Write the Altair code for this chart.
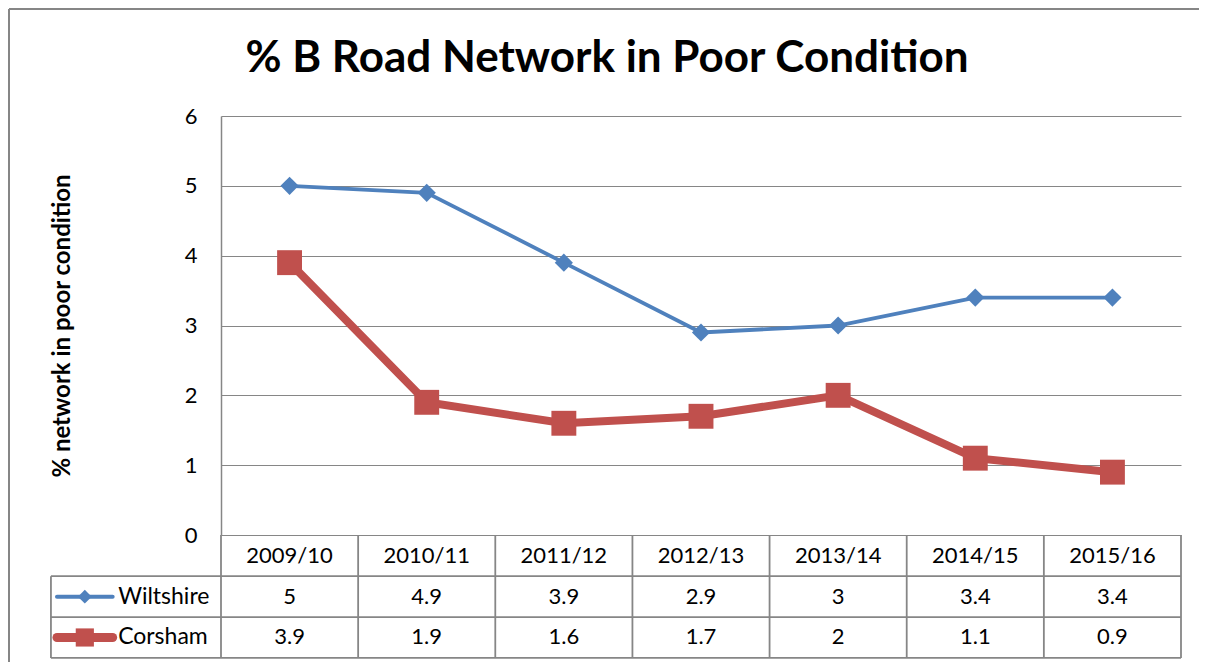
import altair as alt
import pandas as pd

# ---- data ----
categories = ["2009/10", "2010/11", "2011/12", "2012/13", "2013/14", "2014/15", "2015/16"]
wiltshire = [5, 4.9, 3.9, 2.9, 3, 3.4, 3.4]
corsham = [3.9, 1.9, 1.6, 1.7, 2, 1.1, 0.9]
series_names = ["Wiltshire", "Corsham"]
y_ticks = [0, 1, 2, 3, 4, 5, 6]
title_text = "% B Road Network in Poor Condition"
y_title = "% network in poor condition"

# ---- style / layout ----
BLUE = "#4F81BD"
RED = "#C0504D"
GRID = "#868686"
FONT = "Lato"
N = len(categories)
LABEL_LEFT = -1.24          # left edge of the data-table label column (x units)
ROW_EDGES = [0, -0.59, -1.175, -1.76]   # table row boundaries (y units)
ROW_MID = {"header": -0.295, "Wiltshire": -0.8825, "Corsham": -1.4675}
SYM_X0, SYM_X1, SYM_XC, TXT_X = -1.196, -0.79, -0.993, -0.75

rows = []
for i, c in enumerate(categories):
    for s, vals in (("Wiltshire", wiltshire), ("Corsham", corsham)):
        rows.append({"pos": i + 0.5, "cat": c, "series": s, "value": vals[i],
                     "label": str(vals[i]), "rowy": ROW_MID[s]})
df = pd.DataFrame(rows)

hdr = pd.DataFrame({"pos": [i + 0.5 for i in range(N)], "cat": categories,
                    "rowy": [ROW_MID["header"]] * N})

lines = []
for y in ROW_EDGES[1:]:
    lines.append({"x": LABEL_LEFT, "x2": N, "y": y, "y2": y})
for i in range(N + 1):
    lines.append({"x": i, "x2": i, "y": 0, "y2": ROW_EDGES[-1]})
lines.append({"x": LABEL_LEFT, "x2": LABEL_LEFT, "y": ROW_EDGES[1], "y2": ROW_EDGES[-1]})
tlines = pd.DataFrame(lines)

leg = pd.DataFrame({"series": series_names,
                    "x0": [SYM_X0] * 2, "x1": [SYM_X1] * 2, "xc": [SYM_XC] * 2,
                    "tx": [TXT_X] * 2,
                    "rowy": [ROW_MID[s] for s in series_names]})

xs = alt.Scale(domain=[0, N], nice=False, zero=False)
ys = alt.Scale(domain=[0, 6], nice=False, zero=False)

yaxis = alt.Axis(values=y_ticks, grid=True, gridColor=GRID, gridWidth=1.2,
                 domainColor=GRID, domainWidth=1.5, ticks=False,
                 labelFont=FONT, labelFontSize=22, labelColor="black", labelPadding=24,
                 title=y_title, titleFont=FONT, titleFontSize=24,
                 titleFontWeight="bold", titleColor="black", titlePadding=110)


def X(f):
    return alt.X(f, type="quantitative", scale=xs, axis=None)


def Y(f):
    return alt.Y(f, type="quantitative", scale=ys, axis=yaxis)


base = alt.Chart(df)

w_line = base.transform_filter(alt.datum.series == "Wiltshire").mark_line(
    color=BLUE, strokeWidth=3.8).encode(x=X("pos"), y=Y("value"))
c_line = base.transform_filter(alt.datum.series == "Corsham").mark_line(
    color=RED, strokeWidth=8).encode(x=X("pos"), y=Y("value"))
w_pt = base.transform_filter(alt.datum.series == "Wiltshire").mark_point(
    shape="diamond", filled=True, size=330, opacity=1, color=BLUE).encode(
    x=X("pos"), y=Y("value"))
c_pt = base.transform_filter(alt.datum.series == "Corsham").mark_point(
    shape="square", filled=True, size=620, opacity=1, color=RED).encode(
    x=X("pos"), y=Y("value"))

table_rules = alt.Chart(tlines).mark_rule(color=GRID, strokeWidth=1.8, clip=False).encode(
    x=X("x"), x2="x2", y=Y("y"), y2="y2")

hdr_text = alt.Chart(hdr).mark_text(font=FONT, fontSize=22, color="black",
                                    baseline="middle", clip=False).encode(
    x=X("pos"), y=Y("rowy"), text="cat:N")
val_text = base.mark_text(font=FONT, fontSize=22, color="black",
                          baseline="middle", clip=False).encode(
    x=X("pos"), y=Y("rowy"), text="label:N")

leg_lines = alt.Chart(leg).mark_rule(clip=False, strokeCap="round").encode(
    x=X("x0"), x2="x1", y=Y("rowy"),
    color=alt.Color("series:N", scale=alt.Scale(domain=series_names, range=[BLUE, RED]), legend=None),
    strokeWidth=alt.StrokeWidth("series:N", scale=alt.Scale(domain=series_names, range=[4, 9]), legend=None))
leg_pts = alt.Chart(leg).mark_point(filled=True, opacity=1, clip=False).encode(
    x=X("xc"), y=Y("rowy"),
    color=alt.Color("series:N", scale=alt.Scale(domain=series_names, range=[BLUE, RED]), legend=None),
    shape=alt.Shape("series:N", scale=alt.Scale(domain=series_names, range=["diamond", "square"]), legend=None),
    size=alt.Size("series:N", scale=alt.Scale(domain=series_names, range=[190, 330]), legend=None))
leg_text = alt.Chart(leg).mark_text(font=FONT, fontSize=23, color="black", align="left",
                                    baseline="middle", clip=False).encode(
    x=X("tx"), y=Y("rowy"), text="series:N")

one = pd.DataFrame({"t": [title_text]})
title_mark = alt.Chart(one).mark_text(font=FONT, fontSize=44, fontWeight="bold", color="black",
                                      align="center", baseline="alphabetic", clip=False).encode(
    x=alt.value(386), y=alt.value(-44), text="t:N")

frame = alt.Chart(one).mark_rule(color=GRID, strokeWidth=2, clip=False).encode(
    x=alt.value(-212), x2=alt.value(2000), y=alt.value(-107))
frame2 = alt.Chart(one).mark_rule(color=GRID, strokeWidth=2, clip=False).encode(
    x=alt.value(-212), y=alt.value(-107), y2=alt.value(2000))

chart = alt.layer(
    w_line, table_rules, c_line, w_pt, c_pt, hdr_text, val_text,
    leg_lines, leg_pts, leg_text, title_mark, frame, frame2
).properties(
    width=960, height=419,
    autosize=alt.AutoSizeParams(type="none"),
    padding={"left": 213, "top": 108, "right": 18, "bottom": 127},
).configure_view(stroke=None)

chart.save("out.html", embed_options={"renderer": "svg", "actions": False})
